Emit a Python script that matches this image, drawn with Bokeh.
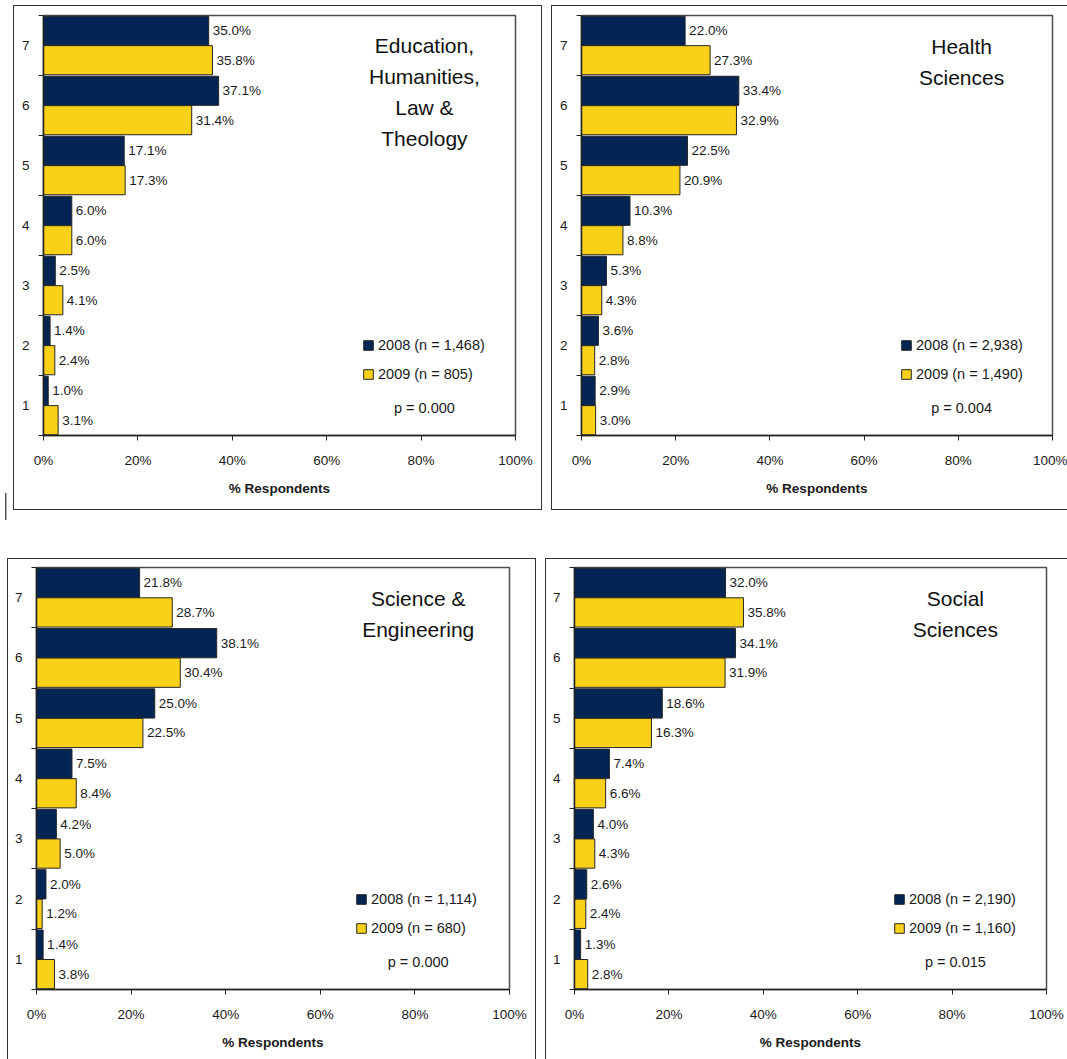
import numpy as np
from bokeh.plotting import figure
from bokeh.models import (Range1d, FixedTicker, Label, Legend, LegendItem,
                          ColumnDataSource, Spacer)
from bokeh.layouts import row, column
from bokeh.embed import file_html
from bokeh.resources import INLINE
from bokeh.core.properties import value

# ---------------- data ----------------
ratings = [1, 2, 3, 4, 5, 6, 7]
x_ticks = [0, 20, 40, 60, 80, 100]
x_tick_labels = ["0%", "20%", "40%", "60%", "80%", "100%"]
axis_title = "% Respondents"

edu_title = ["Education,", "Humanities,", "Law &", "Theology"]
edu_2008 = [1.0, 1.4, 2.5, 6.0, 17.1, 37.1, 35.0]
edu_2009 = [3.1, 2.4, 4.1, 6.0, 17.3, 31.4, 35.8]
edu_n = ["1,468", "805"]
edu_p = "0.000"

hea_title = ["Health", "Sciences"]
hea_2008 = [2.9, 3.6, 5.3, 10.3, 22.5, 33.4, 22.0]
hea_2009 = [3.0, 2.8, 4.3, 8.8, 20.9, 32.9, 27.3]
hea_n = ["2,938", "1,490"]
hea_p = "0.004"

sci_title = ["Science &", "Engineering"]
sci_2008 = [1.4, 2.0, 4.2, 7.5, 25.0, 38.1, 21.8]
sci_2009 = [3.8, 1.2, 5.0, 8.4, 22.5, 30.4, 28.7]
sci_n = ["1,114", "680"]
sci_p = "0.000"

soc_title = ["Social", "Sciences"]
soc_2008 = [1.3, 2.6, 4.0, 7.4, 18.6, 34.1, 32.0]
soc_2009 = [2.8, 2.4, 4.3, 6.6, 16.3, 31.9, 35.8]
soc_n = ["2,190", "1,160"]
soc_p = "0.015"

# ---------------- style ----------------
FONT = "Liberation Sans"
NAVY = "#022553"
GOLD = "#F9D118"
EDGE = "#262626"
TXT = "#1a1a1a"
FRAME = "1.5px solid #333333"


def make_panel(title_lines, v08, v09, n, pval, W, H, borders, sides):
    ml, mr, mt, mb = borders
    fh = H - mt - mb
    css = {f"border-{s}": FRAME for s in sides}
    p = figure(width=W, height=H, output_backend="svg", toolbar_location=None,
               tools="", x_range=Range1d(0, 100), y_range=Range1d(0.5, 7.5),
               min_border_left=ml, min_border_right=mr,
               min_border_top=mt, min_border_bottom=mb, styles=css)
    p.xgrid.visible = False
    p.ygrid.visible = False
    p.outline_line_color = "#4d4d4d"
    p.outline_line_width = 1.5
    p.background_fill_color = "white"
    p.border_fill_color = None

    r = np.array(ratings, dtype=float)
    s08 = ColumnDataSource(dict(y=r + 0.245, v=v08, lab=[f"{v:.1f}%" for v in v08]))
    s09 = ColumnDataSource(dict(y=r - 0.245, v=v09, lab=[f"{v:.1f}%" for v in v09]))
    b08 = p.hbar(y="y", left=0, right="v", height=0.485, source=s08,
                 fill_color=NAVY, line_color=EDGE, line_width=1)
    b09 = p.hbar(y="y", left=0, right="v", height=0.485, source=s09,
                 fill_color=GOLD, line_color=EDGE, line_width=1)
    for s in (s08, s09):
        p.text(x="v", y="y", text="lab", source=s, x_offset=4,
               text_baseline="middle", text_align="left",
               text_font=value(FONT), text_font_size="13.5px", text_color=TXT)

    xa = p.xaxis[0]
    xa.ticker = FixedTicker(ticks=x_ticks)
    xa.major_label_overrides = {t: l for t, l in zip(x_ticks, x_tick_labels)}
    xa.axis_label = axis_title
    xa.axis_label_text_font = FONT
    xa.axis_label_text_font_style = "bold"
    xa.axis_label_text_font_size = "13.5px"
    xa.axis_label_text_color = TXT
    xa.axis_label_standoff = 10
    xa.major_label_text_font = FONT
    xa.major_label_text_font_size = "13.5px"
    xa.major_label_text_color = TXT
    xa.major_label_standoff = 12
    xa.major_tick_in = 0
    xa.major_tick_out = 5
    xa.major_tick_line_color = "#222222"
    xa.minor_tick_line_color = None
    xa.axis_line_color = "#222222"
    xa.axis_line_width = 1.5

    ya = p.yaxis[0]
    ya.ticker = FixedTicker(ticks=ratings, minor_ticks=[0.5 + i for i in range(8)])
    ya.major_tick_line_color = None
    ya.major_tick_in = 0
    ya.major_tick_out = 0
    ya.minor_tick_in = 0
    ya.minor_tick_out = 5
    ya.minor_tick_line_color = "#222222"
    ya.major_label_standoff = 9
    ya.major_label_text_font = FONT
    ya.major_label_text_font_size = "13.5px"
    ya.major_label_text_color = TXT
    ya.axis_line_color = "#222222"
    ya.axis_line_width = 1.5

    leg = Legend(items=[LegendItem(label=value(f"2008 (n = {n[0]})"), renderers=[b08]),
                        LegendItem(label=value(f"2009 (n = {n[1]})"), renderers=[b09])],
                 location=(319, 51), orientation="vertical", padding=0, margin=0,
                 spacing=9, glyph_width=12, glyph_height=12, label_height=20,
                 label_standoff=4, label_text_font=FONT, label_text_font_size="14.5px",
                 label_text_color=TXT, background_fill_alpha=0, border_line_color=None)
    p.add_layout(leg)

    for i, t in enumerate(title_lines):
        p.add_layout(Label(x=80.7, y=fh - 31 - 31 * i, y_units="screen", text=t,
                           text_align="center", text_baseline="middle",
                           text_font=FONT, text_font_size="21px", text_color="#111111"))
    p.add_layout(Label(x=80.7, y=28, y_units="screen", text=f"p = {pval}",
                       text_align="center", text_baseline="middle",
                       text_font=FONT, text_font_size="14.5px", text_color=TXT))
    return p


p1 = make_panel(edu_title, edu_2008, edu_2009, edu_n, edu_p, 529, 505,
                (29, 28, 8, 76), ["left", "top", "right", "bottom"])
p2 = make_panel(hea_title, hea_2008, hea_2009, hea_n, hea_p, 516, 505,
                (29, 16, 9, 76), ["left", "top", "bottom"])
p3 = make_panel(sci_title, sci_2008, sci_2009, sci_n, sci_p, 529, 501,
                (28, 28, 8, 71), ["left", "top", "right"])
p4 = make_panel(soc_title, soc_2008, soc_2009, soc_n, soc_p, 522, 501,
                (28, 22, 8, 71), ["left", "top"])

# small stray vertical stroke left of the first panel (as in the source image)
STROKE = "linear-gradient(#555555, #555555) no-repeat"
left_gap = Spacer(width=13, height=505,
                  styles={"background": f"{STROKE} 5px 488px / 1.5px 17px"})
mid_gap = Spacer(width=1067, height=48,
                 styles={"background": f"{STROKE} 5px 0px / 1.5px 10px"})

layout = column(Spacer(width=1067, height=5),
                row(left_gap, p1, Spacer(width=9, height=505), p2),
                mid_gap,
                row(Spacer(width=7, height=501), p3, Spacer(width=9, height=501), p4))
open("out.html", "w").write(file_html(layout, INLINE))
